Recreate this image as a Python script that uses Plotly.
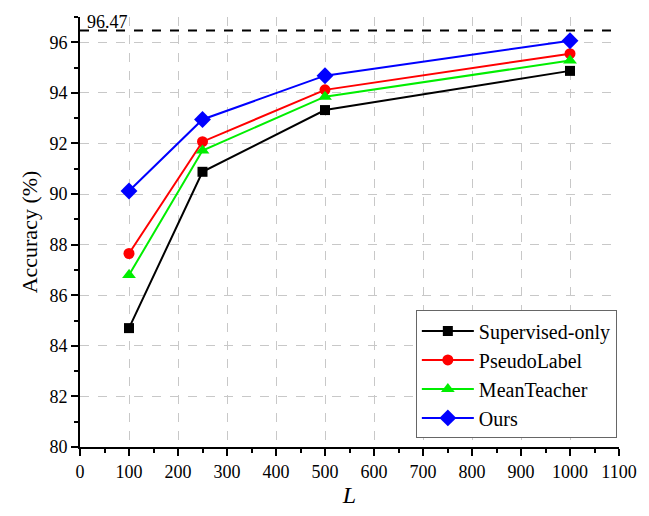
import plotly.graph_objects as go

L = [100, 250, 500, 1000]
supervised = [84.70, 90.88, 93.32, 94.87]
pseudolabel = [87.65, 92.07, 94.12, 95.55]
meanteacher = [86.80, 91.72, 93.85, 95.28]
ours = [90.12, 92.95, 94.68, 96.06]
upper = 96.47

FONT = "Liberation Serif, Times New Roman, serif"

series = [
    ("Supervised-only", supervised, "black", "square", 10),
    ("PseudoLabel", pseudolabel, "red", "circle", 11),
    ("MeanTeacher", meanteacher, "#00ee00", "triangle-up", 12),
    ("Ours", ours, "blue", "diamond", 13),
]

fig = go.Figure()
for name, vals, col, sym, sz in series:
    fig.add_trace(go.Scatter(
        x=L, y=vals, name=name, mode="lines+markers",
        line=dict(color=col, width=2),
        marker=dict(symbol=sym, size=sz, color=col),
    ))

fig.add_shape(type="line", xref="paper", x0=0, x1=1, yref="y", y0=upper, y1=upper,
              line=dict(color="black", width=2, dash="dash"))
fig.add_annotation(xref="paper", x=0.01, y=upper, yref="y", text=f"{upper:.2f}",
                   showarrow=False, xanchor="left", yanchor="bottom", yshift=-4,
                   font=dict(size=18, color="black", family=FONT))

fig.update_layout(
    width=649, height=516,
    margin=dict(l=80, r=29, t=17, b=65),
    plot_bgcolor="white", paper_bgcolor="white",
    font=dict(family=FONT, size=18, color="black"),
    legend=dict(x=0.996, y=0.02, xanchor="right", yanchor="bottom",
                bgcolor="white", bordercolor="#666666", borderwidth=1,
                font=dict(size=20, family=FONT), tracegroupgap=0, itemwidth=52),
    xaxis=dict(
        range=[0, 1100], dtick=100, tick0=0,
        showline=True, linecolor="black", linewidth=2,
        ticks="outside", ticklen=7, tickwidth=1.5, tickcolor="black",
        minor=dict(dtick=50, ticks="outside", ticklen=4, tickcolor="black", showgrid=False),
        showgrid=True, gridcolor="#c8c8c8", griddash="dash", gridwidth=1,
        zeroline=False, mirror=False,
        title=dict(text="<i>L</i>", font=dict(size=24), standoff=6),
    ),
    yaxis=dict(
        range=[80, 97], dtick=2, tick0=80,
        showline=True, linecolor="black", linewidth=2,
        ticks="outside", ticklen=7, tickwidth=1.5, tickcolor="black",
        minor=dict(dtick=1, ticks="outside", ticklen=4, tickcolor="black", showgrid=False),
        showgrid=True, gridcolor="#c8c8c8", griddash="dash", gridwidth=1,
        zeroline=False, mirror=False,
        title=dict(text="Accuracy (%)", font=dict(size=22), standoff=6),
    ),
)

fig.write_html("out.html")
